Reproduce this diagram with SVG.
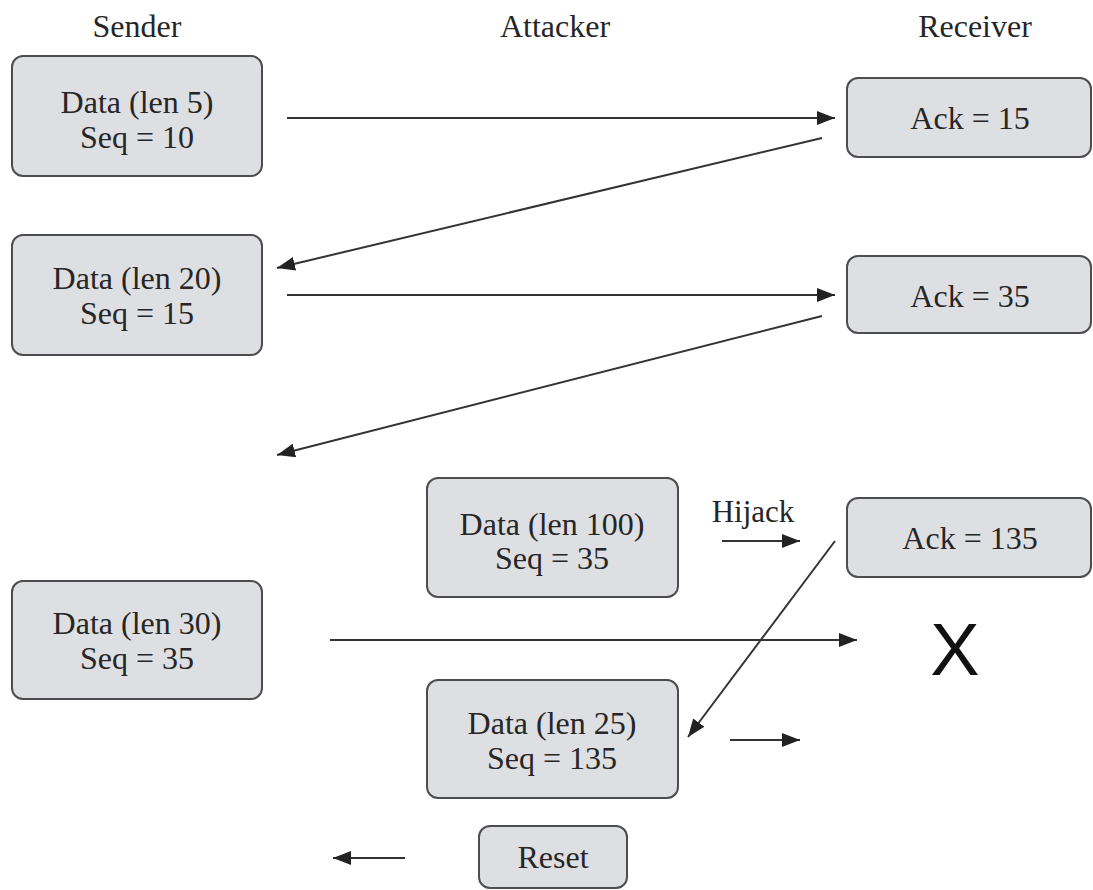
<svg xmlns="http://www.w3.org/2000/svg" width="1093" height="890" viewBox="0 0 1093 890">
<style>
.box{fill:#dedfe2;stroke:#4d4d4d;stroke-width:2}
.t{font-family:'Liberation Serif','DejaVu Serif',serif;font-size:32px;fill:#262626;text-anchor:middle}
.h{font-family:'Liberation Serif','DejaVu Serif',serif;font-size:32px;fill:#262626;text-anchor:middle}
.c{stroke:#333;stroke-width:2;fill:none;marker-end:url(#ah)}
</style>
<defs>
<marker id="ah" markerWidth="20" markerHeight="16" refX="18" refY="7" orient="auto" markerUnits="userSpaceOnUse">
<path d="M0,0 L18,7 L0,14 z" fill="#222"/>
</marker>
</defs>
<rect width="1093" height="890" fill="#fff"/>
<g id="headers">
<text class="h" x="137" y="37">Sender</text>
<text class="h" x="555" y="37">Attacker</text>
<text class="h" x="975" y="37">Receiver</text>
</g>
<g id="n1"><rect class="box" x="12" y="56" width="250" height="120" rx="11"/><text class="t" x="137" y="113">Data (len 5)</text><text class="t" x="137" y="148">Seq = 10</text></g>
<g id="n2"><rect class="box" x="847" y="78" width="244" height="79" rx="11"/><text class="t" x="970" y="129">Ack = 15</text></g>
<g id="n3"><rect class="box" x="12" y="235" width="250" height="120" rx="11"/><text class="t" x="137" y="289">Data (len 20)</text><text class="t" x="137" y="324">Seq = 15</text></g>
<g id="n4"><rect class="box" x="847" y="256" width="244" height="77" rx="11"/><text class="t" x="970" y="307">Ack = 35</text></g>
<g id="n5"><rect class="box" x="427" y="478" width="251" height="119" rx="11"/><text class="t" x="552" y="535">Data (len 100)</text><text class="t" x="552" y="569">Seq = 35</text></g>
<g id="n6"><rect class="box" x="847" y="498" width="244" height="79" rx="11"/><text class="t" x="970" y="549">Ack = 135</text></g>
<g id="n7"><rect class="box" x="12" y="581" width="250" height="118" rx="11"/><text class="t" x="137" y="634">Data (len 30)</text><text class="t" x="137" y="669">Seq = 35</text></g>
<g id="n8"><rect class="box" x="427" y="680" width="251" height="118" rx="11"/><text class="t" x="552" y="734">Data (len 25)</text><text class="t" x="552" y="769">Seq = 135</text></g>
<g id="n9"><rect class="box" x="479" y="826" width="148" height="62" rx="11"/><text class="t" x="553" y="868">Reset</text></g>
<g id="x"><text x="955" y="675" font-family="'Liberation Sans', Arial, sans-serif" font-size="74" fill="#111" text-anchor="middle">X</text></g>
<g id="connectors">
<line class="c" x1="287" y1="118" x2="835" y2="118"/>
<line class="c" x1="822" y1="138" x2="277" y2="268"/>
<line class="c" x1="287" y1="295" x2="835" y2="295"/>
<line class="c" x1="822" y1="316" x2="277" y2="455"/>
<line class="c" x1="722" y1="541" x2="800" y2="541"/>
<text class="t" x="753" y="522" style="font-size:31px">Hijack</text>
<line class="c" x1="330" y1="640" x2="857" y2="640"/>
<line class="c" x1="835" y1="541" x2="688" y2="737"/>
<line class="c" x1="730" y1="740" x2="800" y2="740"/>
<line class="c" x1="405" y1="858" x2="333" y2="858"/>
</g>
</svg>
